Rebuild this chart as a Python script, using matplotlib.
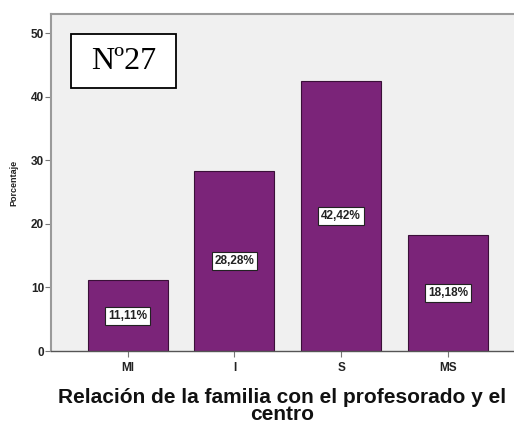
import matplotlib
matplotlib.use("Agg")
import matplotlib.pyplot as plt
from matplotlib.patches import Rectangle

categories = ["MI", "I", "S", "MS"]
percentages = [11.11, 28.28, 42.42, 18.18]
bar_labels = ["11,11%", "28,28%", "42,42%", "18,18%"]
y_ticks = [0, 10, 20, 30, 40, 50]

plt.rcParams['font.family'] = ['Liberation Sans', 'DejaVu Sans']

fig = plt.figure(figsize=(5.14, 4.24), dpi=100)
# axes runs off the right edge like in the original screenshot
ax = fig.add_axes([51 / 514, 1 - 351 / 424, 463 / 514, 337 / 424])
ax.set_facecolor('#f0f0f0')

x = list(range(len(categories)))
bars = ax.bar(x, percentages, width=0.75, color='#7b2479', edgecolor='#3a1038', linewidth=0.8)

# value labels in white boxes, centred on each bar
for b, lab in zip(bars, bar_labels):
    ax.text(b.get_x() + b.get_width() / 2, b.get_height() / 2, lab,
            ha='center', va='center', fontsize=8.5, fontweight='bold', color='#222222',
            bbox=dict(boxstyle='square,pad=0.25', fc='white', ec='#222222', lw=0.8))

ax.set_xlim(-0.72, 3.62)
ax.set_ylim(0, 53)
ax.set_yticks(y_ticks)
ax.set_xticks(x)
ax.set_xticklabels(categories, fontsize=8.5, fontweight='bold', color='#222222')
for t in ax.get_yticklabels():
    t.set_fontweight('bold')
ax.tick_params(axis='y', labelsize=8.5, labelcolor='#222222', length=4, width=0.8, color='#777777', pad=1)
ax.tick_params(axis='x', length=4, width=0.8, color='#777777', pad=4)

for side in ['left', 'top']:
    ax.spines[side].set_color('#9a9a9a')
    ax.spines[side].set_linewidth(1.5)
ax.spines['bottom'].set_color('#555555')
ax.spines['bottom'].set_linewidth(1.0)
ax.spines['right'].set_visible(False)

ax.set_ylabel('Porcentaje', fontsize=6.5, fontweight='bold', labelpad=9, color='#222222')
ax.set_xlabel('Relación de la familia con el profesorado y el\ncentro',
              fontsize=15, fontweight='bold', color='#111111', linespacing=0.9, labelpad=10)

# the "Nº27" stamp in the top left
ax.add_patch(Rectangle((0.043, 0.78), 0.227, 0.16, transform=ax.transAxes,
                       facecolor='white', edgecolor='black', lw=1.3, zorder=5))
ax.text(0.157, 0.86, 'Nº27', transform=ax.transAxes, ha='center', va='center',
        fontsize=23, family='Liberation Serif', zorder=6)

fig.savefig('out.png', dpi=100)
